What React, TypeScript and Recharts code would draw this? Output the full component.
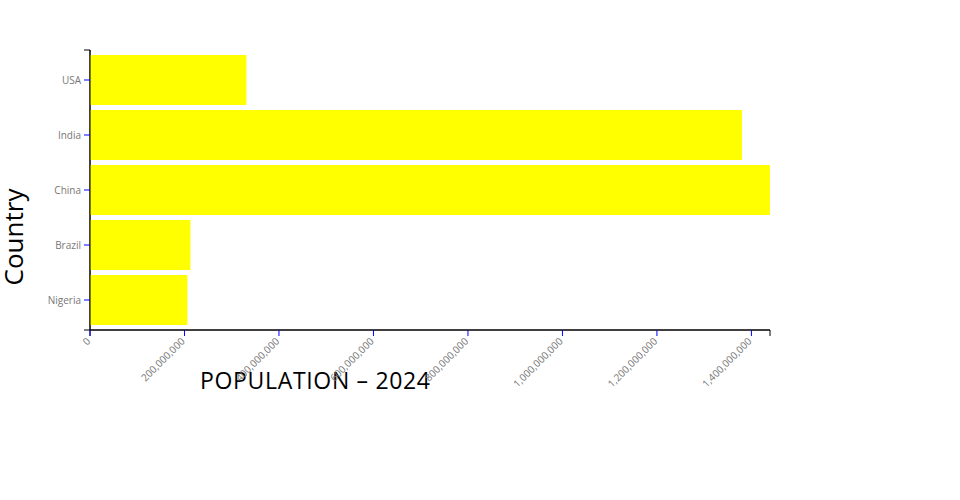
import { BarChart, Bar, XAxis, YAxis, Customized } from "recharts";

const countries = ["USA", "India", "China", "Brazil", "Nigeria"];
const population = [331002651, 1380004385, 1439323776, 212559417, 206139589];
const xTicks = [0, 200000000, 400000000, 600000000, 800000000, 1000000000, 1200000000, 1400000000];

const data = countries.map((name, i) => ({ name, value: population[i] }));

const fmt = (v: number) => v.toLocaleString("en-US");

const XTick = (props: any) => {
  const { x, y, payload } = props;
  return (
    <g transform={`translate(${x + 1},${y + 4})`}>
      <text
        textAnchor="end"
        transform="rotate(-45)"
        fill="#777"
        fontSize={10}
        fontFamily="'Open Sans', sans-serif"
      >
        {fmt(payload.value)}
      </text>
    </g>
  );
};

// titles + the little outer ticks d3 puts on the domain path
const Extras = () => (
  <g>
    <path d="M84,50H90V330H84" fill="none" stroke="#000" />
    <path d="M90,336V330H770V336" fill="none" stroke="#000" />
    <text
      x={23}
      y={237}
      transform="rotate(-90, 23, 237)"
      textAnchor="middle"
      fontSize={26}
      fontFamily="'Open Sans', sans-serif"
      fill="#000"
    >
      Country
    </text>
    <text
      x={200}
      y={389}
      fontSize={23}
      textLength={230}
      lengthAdjust="spacing"
      fontFamily="'Open Sans', sans-serif"
      fill="#000"
    >
      POPULATION – 2024
    </text>
  </g>
);

export default function App() {
  return (
    <>
      <style>{"body{margin:0}"}</style>
      <BarChart
        width={960}
        height={500}
        data={data}
        layout="vertical"
        margin={{ top: 50, right: 190, bottom: 140, left: 0 }}
        barCategoryGap="4.5%"
      >
        <XAxis
          type="number"
          domain={[0, "dataMax"]}
          ticks={xTicks}
          interval={0}
          height={30}
          tickSize={6}
          tickMargin={2}
          tickLine={{ stroke: "blue" }}
          axisLine={{ stroke: "#000" }}
          tick={<XTick />}
        />
        <YAxis
          type="category"
          dataKey="name"
          width={90}
          padding={{ top: 2.5, bottom: 2.5 }}
          tickSize={6}
          tickMargin={3}
          tickLine={{ stroke: "blue" }}
          axisLine={{ stroke: "#000" }}
          tick={{ fill: "#777", fontSize: 10, fontFamily: "'Open Sans', sans-serif" }}
        />
        <Bar dataKey="value" fill="#ffff00" isAnimationActive={false} />
        <Customized component={Extras} />
      </BarChart>
    </>
  );
}
